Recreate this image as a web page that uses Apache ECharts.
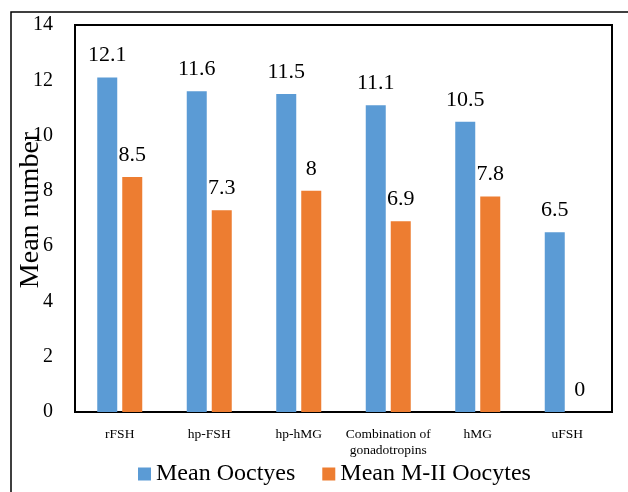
<!DOCTYPE html>
<html>
<head>
<meta charset="utf-8">
<script src="https://cdn.jsdelivr.net/npm/echarts@6/dist/echarts.min.js"></script>
<style>
  html, body { margin: 0; padding: 0; background: #fff; }
  #chart { width: 628px; height: 492px; }
</style>
</head>
<body>
<div id="chart"></div>
<script>
// Gonadotropin protocols and mean oocyte counts
const categories = ['rFSH', 'hp-FSH', 'hp-hMG', 'Combination of\ngonadotropins', 'hMG', 'uFSH'];
const meanOocytes = [12.1, 11.6, 11.5, 11.1, 10.5, 6.5];
const meanMIIOocytes = [8.5, 7.3, 8, 6.9, 7.8, 0];
const seriesNames = ['Mean Ooctyes', 'Mean M-II Oocytes'];
const yTicks = { min: 0, max: 14, interval: 2 };
const yTitle = 'Mean number';

const serif = '"Liberation Serif", "Times New Roman", serif';
const chart = echarts.init(document.getElementById('chart'), null, { renderer: 'canvas' });

const labelStyle = {
  show: true,
  position: 'top',
  distance: 11,
  color: '#000',
  fontFamily: serif,
  fontSize: 22
};

chart.setOption({
  animation: false,
  backgroundColor: '#fff',
  graphic: [
    {
      // outer frame of the figure
      type: 'rect',
      shape: { x: 11, y: 12, width: 700, height: 600 },
      style: { fill: 'none', stroke: '#000', lineWidth: 1.5 },
      silent: true
    },
    {
      // value axis title
      type: 'text',
      x: 31,
      y: 210,
      rotation: Math.PI / 2,
      z: 10,
      style: {
        text: yTitle,
        fill: '#000',
        font: '28px ' + serif,
        align: 'center',
        verticalAlign: 'middle'
      },
      silent: true
    }
  ],
  grid: {
    left: 75, right: 16, top: 25, bottom: 80,
    outerBoundsMode: 'none',
    containLabel: false,
    show: true, borderColor: '#000', borderWidth: 2,
    backgroundColor: 'transparent'
  },
  legend: {
    top: 457,
    left: 133,
    itemWidth: 13,
    itemHeight: 13,
    itemGap: 27,
    icon: 'rect',
    textStyle: { fontFamily: serif, fontSize: 24, color: '#000' },
    data: seriesNames
  },
  xAxis: {
    type: 'category',
    data: categories,
    axisLine: { show: false },
    axisTick: { show: false },
    axisLabel: {
      interval: 0,
      margin: 14,
      color: '#000',
      fontFamily: serif,
      fontSize: 13.5,
      lineHeight: 16
    }
  },
  yAxis: {
    type: 'value',
    min: yTicks.min,
    max: yTicks.max,
    interval: yTicks.interval,
    axisLine: { show: false },
    axisTick: { show: false },
    splitLine: { show: false },
    axisLabel: { color: '#000', fontFamily: serif, fontSize: 20, margin: 22 }
  },
  series: [
    {
      name: seriesNames[0],
      type: 'bar',
      data: meanOocytes,
      barWidth: 20,
      barGap: '25%',
      itemStyle: { color: '#5B9BD5' },
      label: labelStyle
    },
    {
      name: seriesNames[1],
      type: 'bar',
      data: meanMIIOocytes,
      barWidth: 20,
      itemStyle: { color: '#ED7D31' },
      label: labelStyle
    }
  ]
});
</script>
</body>
</html>
